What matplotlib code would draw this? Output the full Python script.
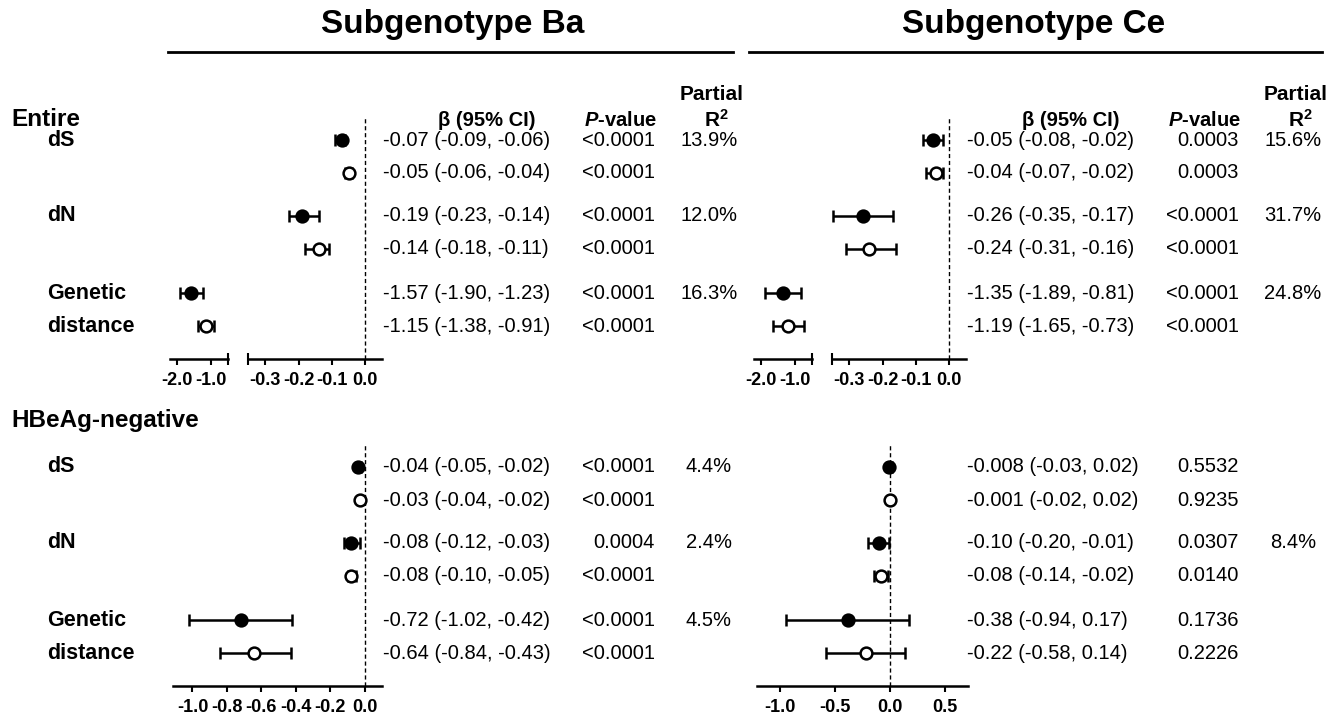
import numpy as np
import matplotlib
matplotlib.use('Agg')
import matplotlib.pyplot as plt
from matplotlib.lines import Line2D
from matplotlib.ticker import FormatStrFormatter
from matplotlib.transforms import blended_transform_factory

plt.rcParams['font.family'] = ['Liberation Sans', 'DejaVu Sans']
plt.rcParams['axes.unicode_minus'] = False
plt.rcParams['mathtext.fontset'] = 'custom'
plt.rcParams['mathtext.rm'] = 'Liberation Sans:bold'
plt.rcParams['mathtext.it'] = 'Liberation Sans:italic:bold'
plt.rcParams['mathtext.bf'] = 'Liberation Sans:bold'

# rows: dS (x2), dN (x2), Genetic distance (x2); first of each pair filled, second open
row_labels = ['dS', '', 'dN', '', 'Genetic', 'distance']

# Subgenotype Ba, entire
ba_all_est = [-0.07, -0.05, -0.19, -0.14, -1.57, -1.15]
ba_all_lo = [-0.09, -0.06, -0.23, -0.18, -1.90, -1.38]
ba_all_hi = [-0.06, -0.04, -0.14, -0.11, -1.23, -0.91]
ba_all_p = ['<0.0001', '<0.0001', '<0.0001', '<0.0001', '<0.0001', '<0.0001']
ba_all_r2 = ['13.9%', '', '12.0%', '', '16.3%', '']

# Subgenotype Ce, entire
ce_all_est = [-0.05, -0.04, -0.26, -0.24, -1.35, -1.19]
ce_all_lo = [-0.08, -0.07, -0.35, -0.31, -1.89, -1.65]
ce_all_hi = [-0.02, -0.02, -0.17, -0.16, -0.81, -0.73]
ce_all_p = ['0.0003', '0.0003', '<0.0001', '<0.0001', '<0.0001', '<0.0001']
ce_all_r2 = ['15.6%', '', '31.7%', '', '24.8%', '']

# Subgenotype Ba, HBeAg-negative
ba_neg_est = [-0.04, -0.03, -0.08, -0.08, -0.72, -0.64]
ba_neg_lo = [-0.05, -0.04, -0.12, -0.10, -1.02, -0.84]
ba_neg_hi = [-0.02, -0.02, -0.03, -0.05, -0.42, -0.43]
ba_neg_p = ['<0.0001', '<0.0001', '0.0004', '<0.0001', '<0.0001', '<0.0001']
ba_neg_r2 = ['4.4%', '', '2.4%', '', '4.5%', '']

# Subgenotype Ce, HBeAg-negative
ce_neg_est = [-0.008, -0.001, -0.10, -0.08, -0.38, -0.22]
ce_neg_lo = [-0.03, -0.02, -0.20, -0.14, -0.94, -0.58]
ce_neg_hi = [0.02, 0.02, -0.01, -0.02, 0.17, 0.14]
ce_neg_p = ['0.5532', '0.9235', '0.0307', '0.0140', '0.1736', '0.2226']
ce_neg_r2 = ['', '', '8.4%', '', '', '']

broken_left_ticks = [-2.0, -1.0]
broken_right_ticks = [-0.3, -0.2, -0.1, 0.0]
ba_neg_ticks = [-1.0, -0.8, -0.6, -0.4, -0.2, 0.0]
ce_neg_ticks = [-1.0, -0.5, 0.0, 0.5]

W, H = 1334, 716
row_pos = [0, 1, 2.3, 3.3, 4.65, 5.65]
ROW_PX = 33.0
BODY = 14.5

fig = plt.figure(figsize=(W / 100, H / 100), dpi=100)


def fx(x):
    return x / W


def fy(y):
    return 1 - y / H


def add_px_axes(x0, x1, y0, y1, row0):
    ax = fig.add_axes([fx(x0), fy(y1), (x1 - x0) / W, (y1 - y0) / H])
    ax.set_ylim((y1 - row0) / ROW_PX, (y0 - row0) / ROW_PX)
    return ax


def fmt(v):
    if v != 0 and abs(v) < 0.01:
        return f"{v:.3f}"
    return f"{v:.2f}"


def style_axis(ax, xlim, ticks, cap=None):
    ax.set_xlim(xlim)
    for s in ['left', 'right', 'top']:
        ax.spines[s].set_visible(False)
    ax.spines['bottom'].set_linewidth(1.8)
    ax.set_yticks([])
    ax.set_xticks(ticks)
    ax.xaxis.set_major_formatter(FormatStrFormatter('%.1f'))
    ax.tick_params(axis='x', which='major', direction='out', length=4.5,
                   width=1.5, labelsize=13, pad=5)
    if cap is not None:
        ax.set_xticks([cap], minor=True)
        ax.tick_params(axis='x', which='minor', direction='inout', length=9,
                       width=1.5, labelbottom=False)
    for lab in ax.get_xticklabels():
        lab.set_fontweight('bold')
    ax.patch.set_alpha(0)


def forest(ax, est, lo, hi):
    for i, (e, l, h) in enumerate(zip(est, lo, hi)):
        face = 'black' if i % 2 == 0 else 'white'
        ax.errorbar(e, row_pos[i], xerr=[[e - l], [h - e]], fmt='o', ms=8.5,
                    mfc=face, mec='black', mew=1.8, ecolor='black',
                    elinewidth=1.8, capsize=4.3, capthick=1.8, zorder=3)


def table(ax, est, lo, hi, pvals, r2, x_beta, x_p, x_r2):
    tr = blended_transform_factory(fig.transFigure, ax.transData)
    for i in range(len(est)):
        y = row_pos[i]
        txt = f"{fmt(est[i])} ({fmt(lo[i])}, {fmt(hi[i])})"
        fig.text(fx(x_beta), y, txt, transform=tr, ha='left', va='center',
                 fontsize=BODY)
        fig.text(fx(x_p), y, pvals[i], transform=tr, ha='right',
                 va='center', fontsize=BODY)
        if r2[i]:
            fig.text(fx(x_r2), y, r2[i], transform=tr, ha='center',
                     va='center', fontsize=BODY)


def row_names(ax):
    tr = blended_transform_factory(fig.transFigure, ax.transData)
    for i, lab in enumerate(row_labels):
        if lab:
            fig.text(fx(47), row_pos[i], lab, transform=tr, ha='left',
                     va='center', fontsize=15.5, fontweight='bold')


# ---- titles and header lines
for cx, x0, x1, name in [(453, 168, 733, 'Subgenotype Ba'),
                          (1034, 749, 1322, 'Subgenotype Ce')]:
    fig.text(fx(cx), fy(24), name, ha='center', va='center', fontsize=24,
             fontweight='bold')
    fig.add_artist(Line2D([fx(x0), fx(x1)], [fy(52), fy(52)],
                          transform=fig.transFigure, color='black', lw=2))

fig.text(fx(11), fy(120), 'Entire', ha='left', va='center', fontsize=17.5,
         fontweight='bold')
fig.text(fx(11), fy(420), 'HBeAg-negative', ha='left', va='center',
         fontsize=17.5, fontweight='bold')

for off in [0, 584]:
    fig.text(fx(487 + off), fy(120), 'β (95% CI)', ha='center', va='center',
             fontsize=14.5, fontweight='bold')
    fig.text(fx(620 + off), fy(120), '$P$-value', ha='center', va='center',
             fontsize=14.5, fontweight='bold')
    fig.text(fx(712 + off), fy(94), 'Partial', ha='center', va='center',
             fontsize=15, fontweight='bold')
    fig.text(fx(716 + off), fy(120), r'R$^{2}$', ha='center', va='center',
             fontsize=15, fontweight='bold')

# ---- Entire section: broken axes
entire_sets = [(0, ba_all_est, ba_all_lo, ba_all_hi, ba_all_p, ba_all_r2),
               (584, ce_all_est, ce_all_lo, ce_all_hi, ce_all_p, ce_all_r2)]
for off, est, lo, hi, pv, r2 in entire_sets:
    ax_l = add_px_axes(170 + off, 228 + off, 118, 359, 140)
    ax_r = add_px_axes(248 + off, 382 + off, 118, 359, 140)
    style_axis(ax_l, (-2.2, -0.5), broken_left_ticks, cap=-0.5)
    style_axis(ax_r, (-0.352, 0.05), broken_right_ticks, cap=-0.352)
    ax_r.axvline(0, color='black', lw=1, ls=(0, (3, 2)), zorder=1)
    forest(ax_l, est, lo, hi)
    forest(ax_r, est, lo, hi)
    table(ax_r, est, lo, hi, pv, r2, 383 + off, 655 + off, 709 + off)
    if off == 0:
        row_names(ax_r)

# ---- HBeAg-negative section
neg_sets = [(173, 382, (-1.113, 0.1), ba_neg_ticks, 0,
             ba_neg_est, ba_neg_lo, ba_neg_hi, ba_neg_p, ba_neg_r2),
            (757, 968, (-1.204, 0.707), ce_neg_ticks, 584,
             ce_neg_est, ce_neg_lo, ce_neg_hi, ce_neg_p, ce_neg_r2)]
for x0, x1, xlim, ticks, off, est, lo, hi, pv, r2 in neg_sets:
    ax = add_px_axes(x0, x1, 445, 686, 467)
    style_axis(ax, xlim, ticks)
    ax.axvline(0, color='black', lw=1, ls=(0, (3, 2)), zorder=1)
    forest(ax, est, lo, hi)
    table(ax, est, lo, hi, pv, r2, 383 + off, 655 + off, 709 + off)
    if off == 0:
        row_names(ax)

fig.savefig('out.png', dpi=100)
